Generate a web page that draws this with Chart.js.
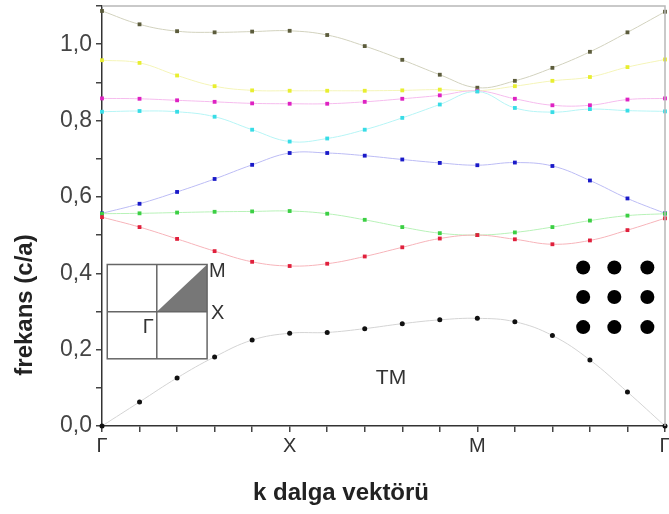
<!DOCTYPE html>
<html>
<head>
<meta charset="utf-8">
<script src="https://cdn.jsdelivr.net/npm/chart.js@4/dist/chart.umd.min.js"></script>
<style>
    html, body { margin: 0; padding: 0; background: #fff; }
    #wrap { width: 669px; height: 514px; }
</style>
</head>
<body>
<div id="wrap"><canvas id="chart" width="669" height="514"></canvas></div>
<script>
const kSteps = [0, 1, 2, 3, 4, 5, 6, 7, 8, 9, 10, 11, 12, 13, 14, 15];
const kLabels = ["Γ", "", "", "", "", "X", "", "", "", "", "M", "", "", "", "", "Γ"];

const band1 = [0, 0.063, 0.126, 0.181, 0.225, 0.243, 0.245, 0.255, 0.268, 0.278, 0.282, 0.273, 0.237, 0.173, 0.089, 0];
const band2 = [0.547, 0.521, 0.490, 0.458, 0.430, 0.419, 0.425, 0.444, 0.468, 0.491, 0.500, 0.489, 0.476, 0.486, 0.513, 0.544];
const band3 = [0.556, 0.557, 0.559, 0.561, 0.562, 0.563, 0.556, 0.540, 0.521, 0.505, 0.500, 0.507, 0.521, 0.538, 0.551, 0.556];
const band4 = [0.557, 0.582, 0.613, 0.647, 0.684, 0.715, 0.715, 0.708, 0.698, 0.689, 0.683, 0.690, 0.681, 0.643, 0.596, 0.557];
const band5 = [0.823, 0.825, 0.823, 0.810, 0.776, 0.745, 0.753, 0.776, 0.807, 0.842, 0.876, 0.833, 0.822, 0.830, 0.826, 0.824];
const band6 = [0.858, 0.857, 0.853, 0.849, 0.845, 0.844, 0.844, 0.849, 0.857, 0.866, 0.878, 0.857, 0.840, 0.840, 0.855, 0.858];
const band7 = [0.958, 0.951, 0.918, 0.890, 0.879, 0.878, 0.878, 0.878, 0.879, 0.881, 0.878, 0.890, 0.904, 0.914, 0.940, 0.960];
const band8 = [1.087, 1.052, 1.034, 1.031, 1.033, 1.035, 1.024, 0.995, 0.959, 0.920, 0.886, 0.904, 0.938, 0.980, 1.031, 1.085];

const FONT = "'Liberation Sans', Arial, sans-serif";

function band(values, line, point, style) {
    return {
        data: values,
        borderColor: line,
        borderWidth: 1,
        tension: 0.4,
        pointStyle: style || "rect",
        pointRadius: style ? 2.5 : 2.7,
        pointBackgroundColor: point,
        pointBorderColor: point,
        pointBorderWidth: 0,
        clip: 5
    };
}

// frame, inset Brillouin zone, lattice and axis titles
const decorations = {
    id: "decorations",
    afterDraw(chart) {
        const { ctx, chartArea: a, scales: { x, y } } = chart;
        ctx.save();

        ctx.strokeStyle = "#b8b8b8";
        ctx.lineWidth = 1.5;
        ctx.beginPath();
        ctx.moveTo(a.left, a.top);
        ctx.lineTo(a.right, a.top);
        ctx.lineTo(a.right, a.bottom);
        ctx.stroke();

        const x0 = x.getPixelForValue(0.14), x1 = x.getPixelForValue(1.46), x2 = x.getPixelForValue(2.8);
        const y0 = y.getPixelForValue(0.423), y1 = y.getPixelForValue(0.299), y2 = y.getPixelForValue(0.176);

        ctx.fillStyle = "#777";
        ctx.beginPath();
        ctx.moveTo(x1, y1);
        ctx.lineTo(x2, y0);
        ctx.lineTo(x2, y1);
        ctx.closePath();
        ctx.fill();

        ctx.strokeStyle = "#666";
        ctx.lineWidth = 1.5;
        ctx.strokeRect(x0, y0, x2 - x0, y2 - y0);
        ctx.beginPath();
        ctx.moveTo(x1, y0);
        ctx.lineTo(x1, y2);
        ctx.moveTo(x0, y1);
        ctx.lineTo(x2, y1);
        ctx.stroke();

        ctx.fillStyle = "#333";
        ctx.font = "20px " + FONT;
        ctx.textBaseline = "middle";
        ctx.textAlign = "left";
        ctx.fillText("M", x2 + 2, y0 + 7);
        ctx.fillText("X", x2 + 4, y1 + 2);
        ctx.fillText("Γ", x1 - 14, y1 + 16);

        ctx.font = "21px " + FONT;
        ctx.textAlign = "center";
        ctx.fillText("TM", x.getPixelForValue(7.7), y.getPixelForValue(0.125));

        ctx.fillStyle = "#000";
        [12.82, 13.65, 14.53].forEach(function (cx) {
            [0.415, 0.338, 0.259].forEach(function (cy) {
                ctx.beginPath();
                ctx.arc(x.getPixelForValue(cx), y.getPixelForValue(cy), 7, 0, Math.PI * 2);
                ctx.fill();
            });
        });

        ctx.fillStyle = "#222";
        ctx.font = "bold 24px " + FONT;
        ctx.textAlign = "center";
        ctx.fillText("k dalga vektörü", a.left + 239, a.bottom + 67);

        ctx.translate(a.left - 77, a.bottom - 121);
        ctx.rotate(-Math.PI / 2);
        ctx.fillText("frekans (c/a)", 0, 0);

        ctx.restore();
    }
};

new Chart(document.getElementById("chart"), {
    type: "line",

    data: {
        labels: kSteps,
        datasets: [
            band(band1, "#d4d4d4", "#111111", "circle"),
            band(band2, "#f7b4ba", "#e0203c"),
            band(band3, "#b8f2b8", "#3ccf44"),
            band(band4, "#bcbcf5", "#1a1ac8"),
            band(band5, "#b6f5f6", "#38dce6"),
            band(band6, "#f6bcee", "#de22c2"),
            band(band7, "#f5f5b8", "#e8ee30"),
            band(band8, "#d2d2be", "#5c5c3c")
        ]
    },

    options: {
        responsive: false,
        animation: false,
        events: [],
        layout: {
            padding: { left: 0, right: 2, top: 6, bottom: 0 }
        },
        plugins: {
            legend: { display: false },
            tooltip: { enabled: false }
        },
        scales: {
            x: {
                type: "linear",
                min: 0,
                max: 15,
                afterFit(scale) {
                    scale.height = 88;
                    scale.paddingLeft = 0;
                    scale.paddingRight = 0;
                },
                border: { display: true, color: "#333", width: 1.5 },
                grid: { drawOnChartArea: false, drawTicks: true, tickLength: 6, color: "#444", lineWidth: 1.5 },
                ticks: {
                    stepSize: 1,
                    autoSkip: false,
                    maxRotation: 0,
                    padding: 2,
                    color: "#333",
                    font: { family: FONT, size: 20 },
                    callback: function (value) {
                        return kLabels[value] || "";
                    }
                }
            },
            y: {
                min: 0,
                max: 1.1,
                afterFit(scale) {
                    scale.width = 102;
                    scale.paddingTop = 0;
                    scale.paddingBottom = 0;
                },
                border: { display: true, color: "#333", width: 1.5 },
                grid: { drawOnChartArea: false, drawTicks: true, tickLength: 6, color: "#444", lineWidth: 1.5 },
                ticks: {
                    stepSize: 0.1,
                    autoSkip: false,
                    padding: 4,
                    color: "#444",
                    font: { family: FONT, size: 23 },
                    callback: function (value) {
                        const t = Math.round(value * 10);
                        if (t % 2 !== 0 || t > 10) {
                            return "";
                        }
                        return (t / 10).toFixed(1).replace(".", ",");
                    }
                }
            }
        }
    },

    plugins: [decorations]
});
</script>
</body>
</html>
